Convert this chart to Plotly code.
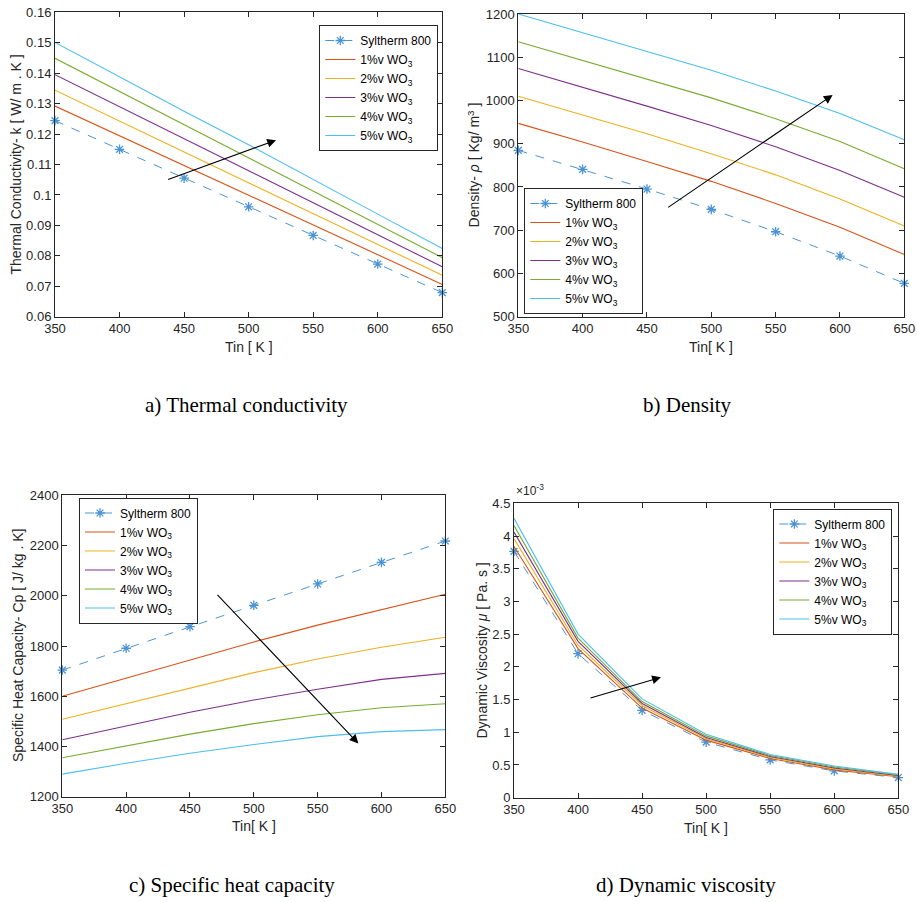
import plotly.graph_objects as go

# Inlet temperature [K]
tin = [350, 400, 450, 500, 550, 600, 650]

series_names = ["Syltherm 800", "1%v WO<sub>3</sub>", "2%v WO<sub>3</sub>",
                "3%v WO<sub>3</sub>", "4%v WO<sub>3</sub>", "5%v WO<sub>3</sub>"]

# Thermal conductivity [W/m.K]
k_base = [0.1244, 0.1150, 0.1055, 0.0961, 0.0867, 0.0773, 0.0679]
k_1 = [0.1292, 0.1194, 0.1097, 0.0999, 0.0901, 0.0804, 0.0706]
k_2 = [0.1344, 0.1243, 0.1141, 0.1040, 0.0939, 0.0837, 0.0736]
k_3 = [0.1395, 0.1290, 0.1185, 0.1080, 0.0974, 0.0869, 0.0764]
k_4 = [0.1449, 0.1340, 0.1231, 0.1122, 0.1012, 0.0903, 0.0794]
k_5 = [0.1501, 0.1388, 0.1275, 0.1165, 0.1050, 0.0937, 0.0824]

# Density [kg/m3]
rho_base = [884.7, 840.7, 795.2, 748.2, 696.5, 640.3, 577.0]
rho_1 = [947, 904, 859, 813, 762, 707, 644]
rho_2 = [1010, 967, 923, 877, 828, 772, 710]
rho_3 = [1074, 1031, 987, 942, 893, 838, 776]
rho_4 = [1136, 1093, 1050, 1006, 958, 905, 842]
rho_5 = [1200, 1157, 1114, 1070, 1022, 970, 909]

# Specific heat capacity [J/kg.K]
cp_base = [1704, 1791, 1877, 1962, 2047, 2133, 2218]
cp_1 = [1600, 1673, 1745, 1816, 1883, 1946, 2006]
cp_2 = [1508, 1571, 1634, 1694, 1748, 1795, 1835]
cp_3 = [1427, 1483, 1536, 1585, 1628, 1667, 1691]
cp_4 = [1355, 1403, 1449, 1491, 1526, 1554, 1570]
cp_5 = [1290, 1333, 1373, 1408, 1439, 1459, 1467]

# Dynamic viscosity [x1e-3 Pa.s]
mu_base = [3.766, 2.201, 1.335, 0.850, 0.578, 0.410, 0.308]
mu_1 = [3.84, 2.28, 1.37, 0.88, 0.600, 0.425, 0.320]
mu_2 = [3.96, 2.33, 1.41, 0.90, 0.615, 0.440, 0.330]
mu_3 = [4.06, 2.39, 1.44, 0.92, 0.630, 0.455, 0.340]
mu_4 = [4.16, 2.44, 1.47, 0.945, 0.645, 0.470, 0.350]
mu_5 = [4.27, 2.50, 1.51, 0.97, 0.660, 0.484, 0.357]

colors = ["#0072BD", "#D95319", "#EDB120", "#7E2F8E", "#77AC30", "#4DBEEE"]

FONT = "Liberation Sans, Arial, sans-serif"
SERIF = "Liberation Serif, Times New Roman, serif"
INK = "#262626"

W, H = 917, 902


def px(xp):
    return xp / W


def py(yp):
    return 1 - yp / H


panels = [
    dict(data=[k_base, k_1, k_2, k_3, k_4, k_5], xa="x", ya="y", legend="legend",
         dom_x=(55, 442.3), dom_y=(12.3, 316.7), yrange=[0.06, 0.16], dtick=0.01,
         leg=(319.3, 25)),
    dict(data=[rho_base, rho_1, rho_2, rho_3, rho_4, rho_5], xa="x2", ya="y2", legend="legend2",
         dom_x=(518.3, 904.3), dom_y=(14, 316.7), yrange=[500, 1200], dtick=100,
         leg=(524.3, 188)),
    dict(data=[cp_base, cp_1, cp_2, cp_3, cp_4, cp_5], xa="x3", ya="y3", legend="legend3",
         dom_x=(62.3, 445.3), dom_y=(495.3, 796.7), yrange=[1200, 2400], dtick=200,
         leg=(79, 497.5)),
    dict(data=[mu_base, mu_1, mu_2, mu_3, mu_4, mu_5], xa="x4", ya="y4", legend="legend4",
         dom_x=(514, 898.3), dom_y=(503.3, 797.7), yrange=[0, 4.5], dtick=0.5,
         leg=(773.3, 508.5)),
]

fig = go.Figure()

for p in panels:
    for i, (vals, name) in enumerate(zip(p["data"], series_names)):
        if i == 0:
            fig.add_trace(go.Scatter(
                x=tin, y=vals, name=name, mode="lines+markers", cliponaxis=False,
                line=dict(color="#4a94d4", width=1, dash="dash"),
                marker=dict(symbol="asterisk-open", size=8,
                            line=dict(color=colors[0], width=1.3)),
                xaxis=p["xa"], yaxis=p["ya"], legend=p["legend"]))
        else:
            fig.add_trace(go.Scatter(
                x=tin, y=vals, name=name, mode="lines",
                line=dict(color=colors[i], width=1.1),
                xaxis=p["xa"], yaxis=p["ya"], legend=p["legend"]))

axis_common = dict(
    showline=True, linecolor=INK, linewidth=1, mirror="allticks",
    ticks="inside", ticklen=5, tickcolor=INK, tickwidth=1,
    showgrid=False, zeroline=False, automargin=False,
    tickfont=dict(family=FONT, size=13, color=INK),
)

layout = dict(
    width=W, height=H, autosize=False,
    margin=dict(l=0, r=0, t=0, b=0, autoexpand=False),
    paper_bgcolor="white", plot_bgcolor="white",
    showlegend=True,
)

for n, p in enumerate(panels, start=1):
    sfx = "" if n == 1 else str(n)
    layout["xaxis" + sfx] = dict(
        axis_common, domain=[px(p["dom_x"][0]), px(p["dom_x"][1])],
        range=[350, 650], tick0=350, dtick=50,
        anchor="y" + sfx)
    layout["yaxis" + sfx] = dict(
        axis_common, domain=[py(p["dom_y"][1]), py(p["dom_y"][0])],
        range=p["yrange"], dtick=p["dtick"], tick0=p["yrange"][0],
        anchor="x" + sfx)
    layout["legend" + sfx] = dict(
        x=px(p["leg"][0]), y=py(p["leg"][1]), xanchor="left", yanchor="top",
        bgcolor="white", bordercolor=INK, borderwidth=1,
        font=dict(family=FONT, size=12, color="#000000"),
        tracegroupgap=0, itemwidth=30,
    )

fig.update_layout(**layout)

annotations = []


def text_ann(text, x, y, size=14, angle=0, family=FONT, color=INK, xanchor="center", yanchor="middle"):
    annotations.append(dict(
        text=text, x=px(x), y=py(y), xref="paper", yref="paper",
        showarrow=False, textangle=angle, xanchor=xanchor, yanchor=yanchor,
        font=dict(family=family, size=size, color=color)))


# Axis titles
text_ann("Tin [ K ]", 248.7, 347)
text_ann("Thermal Conductivity- k [ W/ m . K ]", 15, 164.5, angle=-90)
text_ann("Tin[ K ]", 711, 347)
text_ann("Density- <i>ρ</i> [ Kg/ m<sup>3</sup> ]", 474, 165.4, angle=-90)
text_ann("Tin[ K ]", 253.8, 826)
text_ann("Specific Heat Capacity- Cp [ J/ kg . K]", 18, 646, angle=-90)
text_ann("Tin[ K ]", 706, 828)
text_ann("Dynamic Viscosity <i>μ</i> [ Pa. s ]", 481, 650.5, angle=-90)
text_ann("×10<sup>-3</sup>", 514, 500, size=12, xanchor="left", yanchor="bottom")

# Panel captions
text_ann("a) Thermal conductivity", 247, 405, size=21, family=SERIF, color="#000000")
text_ann("b) Density", 687, 405, size=21, family=SERIF, color="#000000")
text_ann("c) Specific heat capacity", 232, 885, size=21, family=SERIF, color="#000000")
text_ann("d) Dynamic viscosity", 686, 885, size=21, family=SERIF, color="#000000")

# Trend arrows (increasing nanoparticle fraction)
arrows = [
    ("x", "y", (436.5, 0.1049), (521.2, 0.1180)),
    ("x2", "y2", (465.3, 750.5), (594.3, 1012.6)),
    ("x3", "y3", (470.4, 2009.7), (581.9, 1412.0)),
    ("x4", "y4", (408.5, 1.518), (464.7, 1.840)),
]
for xa, ya, (x0, y0), (x1, y1) in arrows:
    annotations.append(dict(
        x=x1, y=y1, ax=x0, ay=y0, xref=xa, yref=ya, axref=xa, ayref=ya,
        showarrow=True, arrowhead=2, arrowsize=1.6, arrowwidth=1.1,
        arrowcolor="#000000", text=""))

fig.update_layout(annotations=annotations)

fig.write_html("out.html")
